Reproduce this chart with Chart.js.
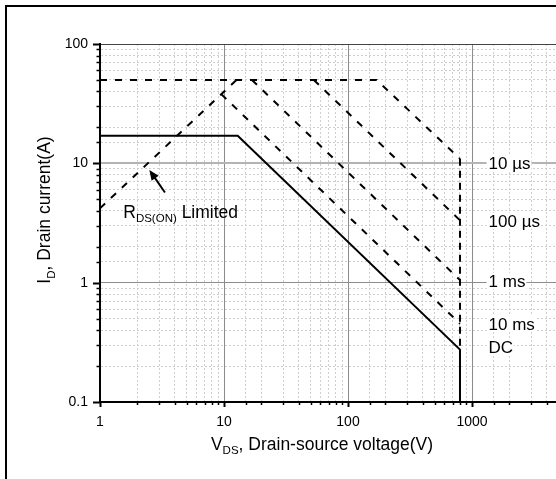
<!DOCTYPE html>
<html>
<head>
<meta charset="utf-8">
<script src="https://cdn.jsdelivr.net/npm/chart.js@4"></script>
<style>
  html, body { margin: 0; padding: 0; background: #fff; overflow: hidden; }
  #wrap { position: relative; width: 556px; height: 479px; overflow: hidden; }
  #frame { position: absolute; left: 5px; top: 5px; width: 700px; height: 600px; border: 2.5px solid #000; }
  canvas { position: absolute; left: 0; top: 0; }
</style>
</head>
<body>
<div id="wrap">
  <div id="frame"></div>
  <canvas id="soaPlot" width="640" height="479"></canvas>
</div>
<script>
const FONT = '"Liberation Sans", Arial, sans-serif'

// SOA boundaries: V_DS in volts, I_D in amps
const vdsDC = [1, 12.9, 800, 800]
const idDC = [17, 17, 0.275, 0.1]
const vds10us = [1, 170, 800, 800]
const id10us = [50, 50, 10.9, 0.275]
const vds100us = [53, 800]
const id100us = [50, 3.33]
const vds1ms = [16.8, 800]
const id1ms = [50, 1.05]
const vds10ms = [9.5, 800]
const id10ms = [38, 0.453]
const vdsRdsOn = [1, 12.6]
const idRdsOn = [4.2, 50]

const xTickLabels = [1, 10, 100, 1000]
const yTickLabels = [0.1, 1, 10, 100]

// pulse width names beside the 800 V edge
const pulseNames = ['10 µs', '100 µs', '1 ms', '10 ms', 'DC']
const pulseLabelY = [10, 3.3, 1.03, 0.45, 0.29]
const pulseLabelX = 1360

// R_DS(on) note and its arrow, in axis units
const rdsLabelAt = [1.54, 3.49]
const rdsArrowFrom = [3.34, 5.7]
const rdsArrowTo = [2.5, 8.8]

const isDecade = v => Math.abs(Math.log10(v) - Math.round(Math.log10(v))) < 1e-6
const toPoints = (xs, ys) => xs.map((x, i) => ({x: x, y: ys[i]}))

const solidLine = (xs, ys) => ({
    data: toPoints(xs, ys),
    borderColor: '#000',
    borderWidth: 2,
    pointRadius: 0,
    fill: false,
    tension: 0
})

const dashedLine = (xs, ys) => ({
    ...solidLine(xs, ys),
    borderDash: [7, 8],
    segment: {
        borderDash: ctx => ctx.p0.parsed.x === ctx.p1.parsed.x ? [7, 5] : [7, 8]
    }
})

const gridColor = (axis) => (ctx) => {
    const v = ctx.tick ? ctx.tick.value : 0
    if (axis === 'y' && v === 100) return '#444'
    if (axis === 'y' && v === 10) return '#b4b4b4'
    return isDecade(v) ? '#8c8c8c' : '#cfcfcf'
}

const tickLabel = (list) => (value) => list.some(v => Math.abs(v - value) < 1e-9) ? String(value) : ''

const drawRich = (ctx, x, y, parts, big, small) => {
    parts.forEach(([text, sub]) => {
        ctx.font = (sub ? small : big) + 'px ' + FONT
        ctx.fillText(text, x, sub ? y + 4.5 : y)
        x += ctx.measureText(text).width
    })
}

const richWidth = (ctx, parts, big, small) => parts.reduce((w, [text, sub]) => {
    ctx.font = (sub ? small : big) + 'px ' + FONT
    return w + ctx.measureText(text).width
}, 0)

const tickMarks = {
    id: 'tickMarks',
    afterDraw(chart) {
        const {ctx, scales: {x, y}} = chart
        ctx.save()
        ctx.strokeStyle = '#000'
        x.ticks.forEach(t => {
            const px = Math.round(x.getPixelForValue(t.value)) + 0.5
            const major = isDecade(t.value)
            ctx.lineWidth = major ? 2 : 1.5
            ctx.beginPath()
            ctx.moveTo(px, x.top)
            ctx.lineTo(px, x.top + (major ? 5 : 3))
            ctx.stroke()
        })
        y.ticks.forEach(t => {
            const py = Math.round(y.getPixelForValue(t.value)) + 0.5
            const major = isDecade(t.value)
            ctx.lineWidth = major ? 2 : 1.5
            ctx.beginPath()
            ctx.moveTo(y.right, py)
            ctx.lineTo(y.right - (major ? 7 : 3.5), py)
            ctx.stroke()
        })
        ctx.restore()
    }
}

const annotations = {
    id: 'annotations',
    afterDatasetsDraw(chart) {
        const {ctx, scales: {x, y}} = chart
        ctx.save()
        ctx.fillStyle = '#000'
        ctx.textBaseline = 'alphabetic'
        ctx.textAlign = 'left'

        // pulse width labels on white boxes
        ctx.font = '17px ' + FONT
        pulseNames.forEach((name, i) => {
            const lx = x.getPixelForValue(pulseLabelX)
            const cy = y.getPixelForValue(pulseLabelY[i])
            const w = ctx.measureText(name).width
            ctx.fillStyle = '#fff'
            ctx.fillRect(lx - 2, cy - 8, w + 3, 16)
            ctx.fillStyle = '#000'
            ctx.fillText(name, lx, cy + 6)
        })

        // R_DS(ON) Limited
        drawRich(ctx, x.getPixelForValue(rdsLabelAt[0]), y.getPixelForValue(rdsLabelAt[1]),
            [['R'], ['DS(ON)', true], [' Limited']], 17.5, 11.5)

        // arrow pointing at the on-resistance line
        const x0 = x.getPixelForValue(rdsArrowFrom[0]), y0 = y.getPixelForValue(rdsArrowFrom[1])
        const x1 = x.getPixelForValue(rdsArrowTo[0]), y1 = y.getPixelForValue(rdsArrowTo[1])
        const ang = Math.atan2(y1 - y0, x1 - x0)
        const head = 11
        ctx.strokeStyle = '#000'
        ctx.lineWidth = 2
        ctx.beginPath()
        ctx.moveTo(x0, y0)
        ctx.lineTo(x1 - Math.cos(ang) * head * 0.8, y1 - Math.sin(ang) * head * 0.8)
        ctx.stroke()
        ctx.beginPath()
        ctx.moveTo(x1, y1)
        ctx.lineTo(x1 - head * Math.cos(ang - 0.4), y1 - head * Math.sin(ang - 0.4))
        ctx.lineTo(x1 - head * Math.cos(ang + 0.4), y1 - head * Math.sin(ang + 0.4))
        ctx.closePath()
        ctx.fill()
        ctx.restore()
    },
    afterDraw(chart) {
        const {ctx} = chart
        ctx.save()
        ctx.fillStyle = '#000'
        ctx.textBaseline = 'alphabetic'
        ctx.textAlign = 'left'

        const xTitle = [['V'], ['DS', true], [', Drain-source voltage(V)']]
        const xw = richWidth(ctx, xTitle, 17.5, 11.5)
        drawRich(ctx, 322 - xw / 2, 449.5, xTitle, 17.5, 11.5)

        const yTitle = [['I'], ['D', true], [', Drain current(A)']]
        const yw = richWidth(ctx, yTitle, 17.5, 11.5)
        ctx.translate(50, 210)
        ctx.rotate(-Math.PI / 2)
        drawRich(ctx, -yw / 2, 0, yTitle, 17.5, 11.5)
        ctx.restore()
    }
}

new Chart(document.getElementById('soaPlot'), {
    type: 'line',
    data: {
        datasets: [
            solidLine(vdsDC, idDC),
            dashedLine(vds10us, id10us),
            dashedLine(vds100us, id100us),
            dashedLine(vds1ms, id1ms),
            dashedLine(vds10ms, id10ms),
            dashedLine(vdsRdsOn, idRdsOn)
        ]
    },
    options: {
        responsive: false,
        animation: false,
        devicePixelRatio: 1,
        layout: { padding: { top: 44, right: 44, left: 0, bottom: 0 } },
        plugins: { legend: { display: false }, tooltip: { enabled: false } },
        scales: {
            x: {
                type: 'logarithmic',
                min: 1,
                max: 10000,
                afterFit: s => { s.height = 77 },
                grid: { drawTicks: false, color: gridColor('x'), lineWidth: 1 },
                border: { color: '#000', width: 2, dash: ctx => ctx.tick && !isDecade(ctx.tick.value) ? [2, 2] : [] },
                ticks: {
                    autoSkip: false,
                    maxRotation: 0,
                    padding: 12,
                    color: '#000',
                    font: { family: FONT, size: 14 },
                    callback: tickLabel(xTickLabels)
                }
            },
            y: {
                type: 'logarithmic',
                min: 0.1,
                max: 100,
                afterFit: s => { s.width = 100 },
                grid: {
                    drawTicks: false,
                    color: gridColor('y'),
                    lineWidth: ctx => ctx.tick && ctx.tick.value === 10 ? 2 : 1
                },
                border: { color: '#000', width: 2, dash: ctx => ctx.tick && !isDecade(ctx.tick.value) ? [2, 2] : [] },
                ticks: {
                    autoSkip: false,
                    padding: 12,
                    color: '#000',
                    font: { family: FONT, size: 14 },
                    callback: tickLabel(yTickLabels)
                }
            }
        }
    },
    plugins: [tickMarks, annotations]
})
</script>
</body>
</html>
